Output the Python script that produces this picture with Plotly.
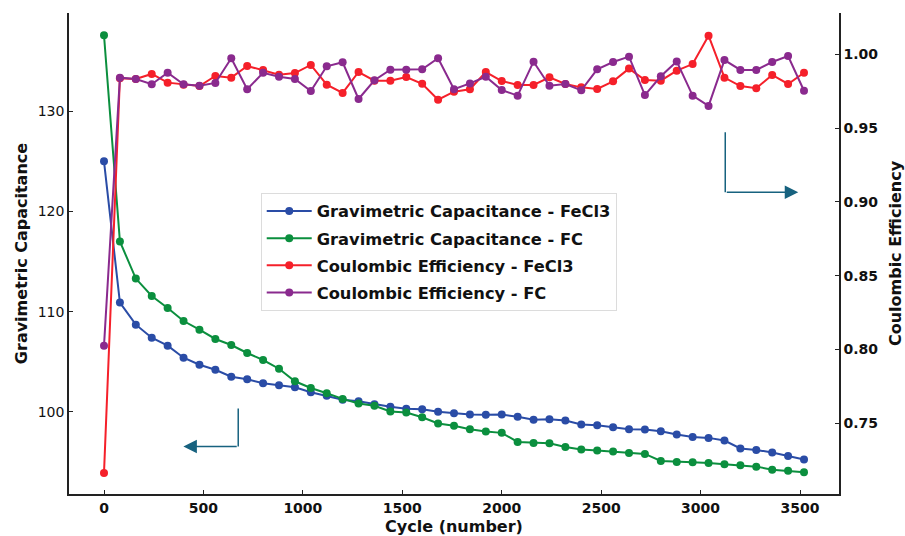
import plotly.graph_objects as go

# Cycle numbers at which capacitance / efficiency were recorded
cycles = [0] + list(range(80, 3521, 80))

cap_fecl3 = [125.0, 110.9, 108.7, 107.4, 106.6, 105.4, 104.7, 104.2, 103.5, 103.25,
             102.85, 102.65, 102.45, 101.95, 101.6, 101.2, 101.05, 100.75, 100.5, 100.3,
             100.25, 100.0, 99.85, 99.73, 99.7, 99.73, 99.5, 99.2, 99.25, 99.13,
             98.73, 98.66, 98.46, 98.26, 98.23, 98.06, 97.73, 97.5, 97.4, 97.14,
             96.34, 96.2, 95.94, 95.6, 95.24]

cap_fc = [137.58, 117.0, 113.3, 111.56, 110.36, 109.06, 108.2, 107.27, 106.67, 105.87,
          105.17, 104.3, 103.05, 102.38, 101.85, 101.29, 100.83, 100.6, 100.03, 99.93,
          99.46, 98.83, 98.6, 98.27, 98.03, 97.9, 97.0, 96.9, 96.87, 96.5,
          96.24, 96.14, 96.04, 95.9, 95.8, 95.1, 95.0, 94.97, 94.9, 94.77,
          94.67, 94.53, 94.23, 94.13, 93.96]

ce_fecl3 = [0.7163, 0.9837, 0.9833, 0.9867, 0.9808, 0.9794, 0.9785, 0.9853, 0.9842, 0.9921,
            0.9894, 0.9862, 0.9873, 0.9928, 0.9794, 0.9738, 0.9880, 0.9821, 0.9821, 0.9846,
            0.9800, 0.9692, 0.9747, 0.9763, 0.9880, 0.9819, 0.9792, 0.9792, 0.9844, 0.9799,
            0.9776, 0.9765, 0.9817, 0.9903, 0.9826, 0.9821, 0.9889, 0.9934, 1.0126, 0.9842,
            0.9785, 0.9770, 0.9860, 0.9799, 0.9875]

ce_fc = [0.8024, 0.9842, 0.9833, 0.9797, 0.9875, 0.9797, 0.9787, 0.9806, 0.9973, 0.9763,
         0.9875, 0.9848, 0.9833, 0.9751, 0.9919, 0.9946, 0.9697, 0.9824, 0.9896, 0.9896,
         0.9898, 0.9973, 0.9763, 0.9803, 0.9848, 0.9758, 0.9720, 0.9950, 0.9787, 0.9799,
         0.9756, 0.9898, 0.9948, 0.9984, 0.9724, 0.9851, 0.9952, 0.9720, 0.9650, 0.9961,
         0.9894, 0.9894, 0.9948, 0.9988, 0.9753]

cap_ticks = [100, 110, 120, 130]
ce_ticks = [0.75, 0.80, 0.85, 0.90, 0.95, 1.00]
cycle_ticks = [0, 500, 1000, 1500, 2000, 2500, 3000, 3500]

FONT = "DejaVu Sans"
ARROW = "#17627f"

series = [
    ("Gravimetric Capacitance - FeCl3", cap_fecl3, "#2a4ca6", "y"),
    ("Gravimetric Capacitance - FC", cap_fc, "#0b8f3e", "y"),
    ("Coulombic Efficiency - FeCl3", ce_fecl3, "#f5202a", "y2"),
    ("Coulombic Efficiency - FC", ce_fc, "#8a2a8e", "y2"),
]

fig = go.Figure()
for i, (name, vals, color, ax) in enumerate(series):
    fig.add_trace(go.Scatter(
        x=cycles, y=vals, name=name, yaxis=ax, mode="lines+markers",
        line=dict(color=color, width=2),
        marker=dict(color=color, size=8),
        legendgroup=f"g{i}",
    ))

axis_line = dict(showline=True, linecolor="#222", linewidth=1.5, showgrid=False,
                 zeroline=False, ticks="inside", ticklen=4, tickwidth=1.2, tickcolor="#222",
                 automargin=False)

fig.update_layout(
    width=905, height=536,
    margin=dict(l=69, r=66, t=13, b=42),
    plot_bgcolor="white", paper_bgcolor="white",
    font=dict(family=FONT, color="#111"),
    xaxis=dict(
        range=[-176, 3696], tickvals=cycle_ticks,
        tickfont=dict(size=14, weight="bold"),
        title=dict(text="Cycle (number)", font=dict(size=16, weight="bold"), standoff=6),
        **axis_line,
    ),
    yaxis=dict(
        range=[91.8, 139.8], tickvals=cap_ticks,
        tickfont=dict(size=14),
        title=dict(text="Gravimetric Capacitance", font=dict(size=16, weight="bold"), standoff=6),
        **axis_line,
    ),
    yaxis2=dict(
        overlaying="y", side="right", anchor="x",
        range=[0.702, 1.028], tickvals=ce_ticks, tickformat=".2f",
        tickfont=dict(size=14, weight="bold"),
        title=dict(text="Coulombic Efficiency", font=dict(size=16, weight="bold"), standoff=12),
        **axis_line,
    ),
    legend=dict(
        x=0.249, y=0.626, xanchor="left", yanchor="top",
        bgcolor="white", bordercolor="#dcdcdc", borderwidth=1,
        font=dict(size=16.3, weight="bold", color="#111"),
        traceorder="grouped", tracegroupgap=3, itemwidth=45,
    ),
    showlegend=True,
)

# Direction hints: left arrow -> capacitance axis, right arrow -> efficiency axis
fig.add_shape(type="line", xref="x", yref="y", x0=675, x1=675, y0=100.33, y1=96.54,
              line=dict(color=ARROW, width=1.5))
fig.add_annotation(xref="x", yref="y", axref="x", ayref="y", x=399, y=96.54, ax=675, ay=96.54,
                   text="", showarrow=True, arrowhead=2, arrowsize=1.8, arrowwidth=1.5,
                   arrowcolor=ARROW, standoff=0, startstandoff=0)
fig.add_shape(type="line", xref="x", yref="y2", x0=3124, x1=3124, y0=0.9472, y1=0.9065,
              line=dict(color=ARROW, width=1.5))
fig.add_annotation(xref="x", yref="y2", axref="x", ayref="y2", x=3491, y=0.9065, ax=3124, ay=0.9065,
                   text="", showarrow=True, arrowhead=2, arrowsize=1.8, arrowwidth=1.5,
                   arrowcolor=ARROW, standoff=0, startstandoff=0)

fig.write_html("out.html")
